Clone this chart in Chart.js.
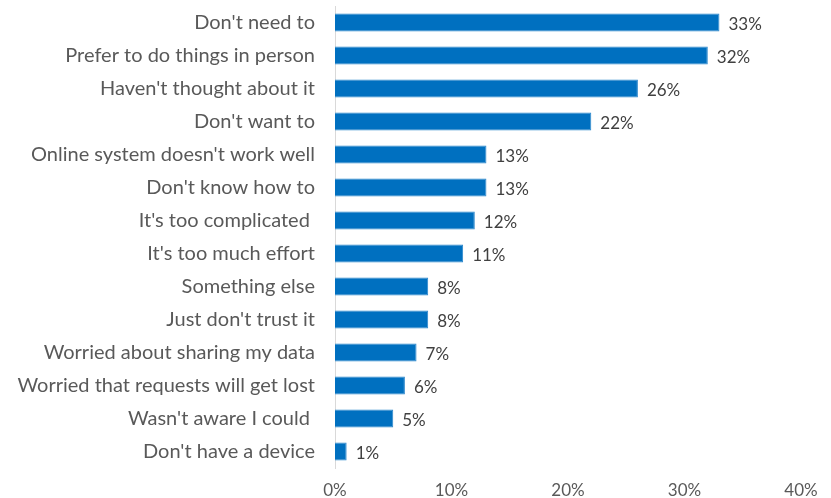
<!DOCTYPE html>
<html>
<head>
<meta charset="utf-8">
<script src="https://cdn.jsdelivr.net/npm/chart.js@4/dist/chart.umd.min.js"></script>
<style>
  html, body { margin: 0; padding: 0; background: #ffffff; }
  #wrap { width: 831px; height: 498px; position: relative; }
</style>
</head>
<body>
<div id="wrap"><canvas id="chart" width="831" height="498"></canvas></div>
<script>
// Reasons given, in display order (top to bottom)
const reasons = [
  "Don't need to",
  "Prefer to do things in person",
  "Haven't thought about it",
  "Don't want to",
  "Online system doesn't work well",
  "Don't know how to",
  "It's too complicated ",
  "It's too much effort",
  "Something else",
  "Just don't trust it",
  "Worried about sharing my data",
  "Worried that requests will get lost",
  "Wasn't aware I could ",
  "Don't have a device"
];

// Share of respondents (%)
const shares = [33, 32, 26, 22, 13, 13, 12, 11, 8, 8, 7, 6, 5, 1];

// Horizontal axis ticks (%)
const axisTicks = [0, 10, 20, 30, 40];

const FONT = "Lato, 'Open Sans', sans-serif";

// Writes the percentage just past the end of each bar
const valueLabels = {
  id: 'valueLabels',
  afterDatasetsDraw(chart) {
    const ctx = chart.ctx;
    const meta = chart.getDatasetMeta(0);
    ctx.save();
    ctx.font = "17px " + FONT;
    ctx.fillStyle = '#404040';
    ctx.textAlign = 'left';
    ctx.textBaseline = 'middle';
    meta.data.forEach((bar, i) => {
      ctx.fillText(shares[i] + '%', bar.x + 9, bar.y + 2);
    });
    ctx.restore();
  }
};

new Chart(document.getElementById('chart'), {
  type: 'bar',
  data: {
    labels: reasons,
    datasets: [{
      data: shares,
      backgroundColor: '#0070C0',
      borderColor: '#2a86cc',
      borderWidth: 1,
      categoryPercentage: 1,
      barPercentage: 0.55
    }]
  },
  options: {
    indexAxis: 'y',
    responsive: false,
    animation: false,
    layout: { padding: { top: 6, right: 30, bottom: 0, left: 0 } },
    plugins: {
      legend: { display: false },
      tooltip: { enabled: false }
    },
    scales: {
      x: {
        min: 0,
        max: 40,
        afterBuildTicks(scale) {
          scale.ticks = axisTicks.map(v => ({ value: v }));
        },
        afterFit(scale) {
          scale.height = 30;
          scale.paddingLeft = 0;
          scale.paddingRight = 0;
        },
        grid: { display: false, drawTicks: false },
        border: { display: false },
        ticks: {
          padding: 12,
          color: '#595959',
          font: { family: FONT, size: 17 },
          callback: v => v + '%'
        }
      },
      y: {
        afterFit(scale) {
          scale.width = 335;
          scale.paddingTop = 0;
          scale.paddingBottom = 0;
        },
        grid: { display: false, drawTicks: false },
        border: { display: true, color: '#d9d9d9', width: 1 },
        ticks: {
          padding: 20,
          color: '#595959',
          font: { family: FONT, size: 20 }
        }
      }
    }
  },
  plugins: [valueLabels]
});
</script>
</body>
</html>
